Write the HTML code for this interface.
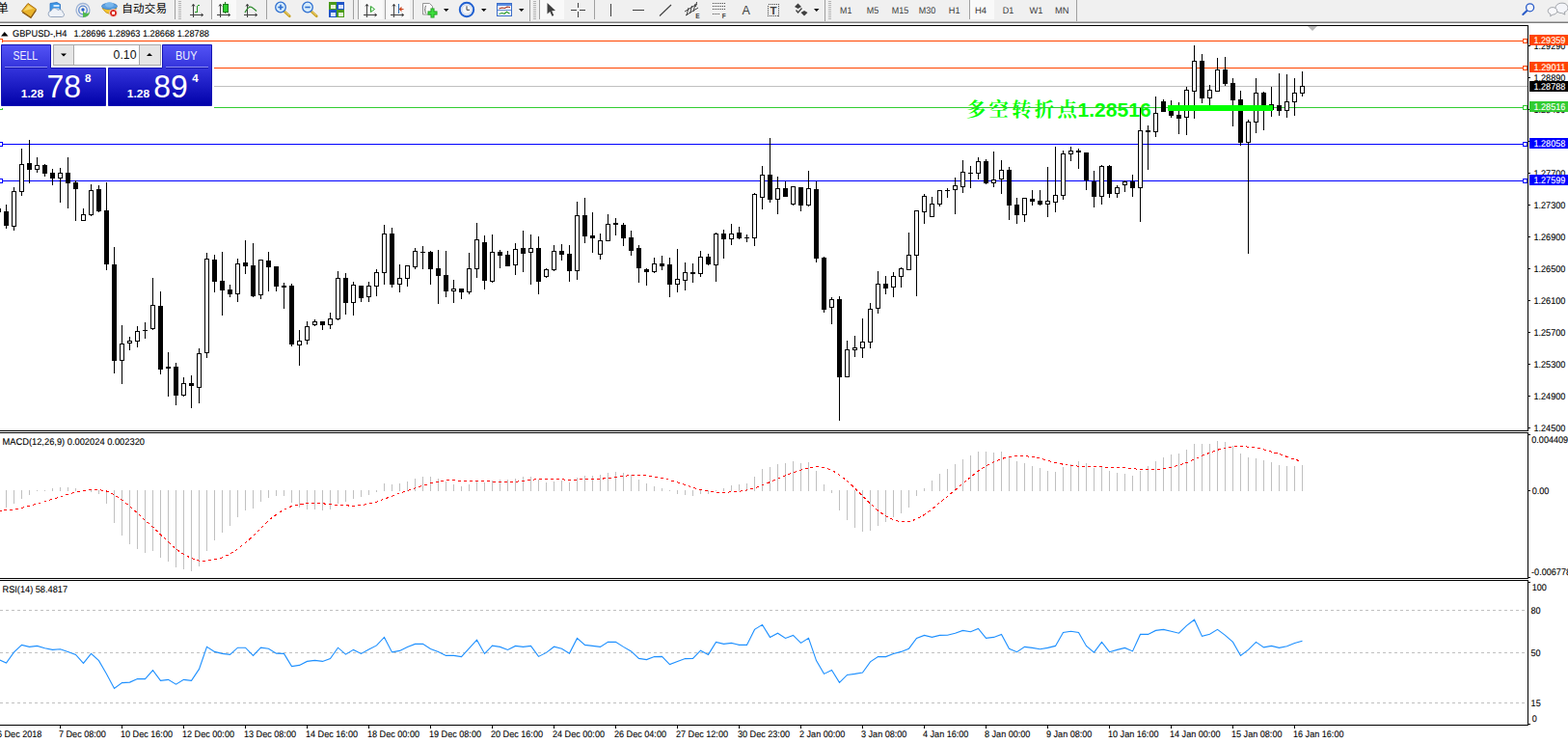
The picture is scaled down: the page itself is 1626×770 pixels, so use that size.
<!DOCTYPE html>
<html><head><meta charset="utf-8"><title>GBPUSD-,H4</title>
<style>
html,body{margin:0;padding:0;background:#fff;}
body{width:1626px;height:770px;overflow:hidden;font-family:"Liberation Sans",sans-serif;}
svg{display:block;position:absolute;left:0;top:0;}
svg text{font-family:"Liberation Sans",sans-serif;}
</style></head><body>
<svg width="1626" height="770" viewBox="0 0 1626 770">
<rect x="0" y="0" width="1626" height="770" fill="#fff"/>
<text x="1002" y="120.9" font-size="20.4" fill="#00ff00" font-weight="bold" text-anchor="start" textLength="114.8" lengthAdjust="spacing" style="font-family:'Liberation Serif','Noto Serif CJK SC',serif;">多空转折点</text>
<text x="1117.5" y="120.8" font-size="21.1" fill="#00ff00" font-weight="bold" text-anchor="start" >1.28516</text>
<g shape-rendering="crispEdges">
<rect x="0" y="26" width="1585" height="1" fill="#000" />
<rect x="1584" y="26" width="1" height="726" fill="#000" />
<rect x="0" y="446" width="1585" height="1" fill="#000" />
<rect x="0" y="448" width="1585" height="1" fill="#000" />
<rect x="0" y="599" width="1585" height="1" fill="#000" />
<rect x="0" y="601" width="1585" height="1" fill="#000" />
<rect x="0" y="751" width="1585" height="1" fill="#000" />
<rect x="1584" y="447" width="1" height="1" fill="#fff" />
<rect x="1584" y="600" width="1" height="1" fill="#fff" />
<rect x="0" y="89" width="1584" height="1" fill="#c0c0c0" />
<rect x="0" y="42" width="1584" height="1" fill="#ff4500" />
<rect x="-3.5" y="40.5" width="6" height="4" fill="#fff" stroke="#ff4500" stroke-width="1"/>
<rect x="1579.5" y="40.5" width="4" height="4" fill="#fff" stroke="#ff4500" stroke-width="1"/>
<rect x="0" y="70" width="1584" height="1" fill="#ff4500" />
<rect x="-3.5" y="68.5" width="6" height="4" fill="#fff" stroke="#ff4500" stroke-width="1"/>
<rect x="1579.5" y="68.5" width="4" height="4" fill="#fff" stroke="#ff4500" stroke-width="1"/>
<rect x="0" y="111" width="1584" height="1" fill="#32cd32" />
<rect x="-3.5" y="109.5" width="6" height="4" fill="#fff" stroke="#32cd32" stroke-width="1"/>
<rect x="1579.5" y="109.5" width="4" height="4" fill="#fff" stroke="#32cd32" stroke-width="1"/>
<rect x="0" y="149" width="1584" height="1" fill="#0000ff" />
<rect x="-3.5" y="147.5" width="6" height="4" fill="#fff" stroke="#0000ff" stroke-width="1"/>
<rect x="1579.5" y="147.5" width="4" height="4" fill="#fff" stroke="#0000ff" stroke-width="1"/>
<rect x="0" y="187" width="1584" height="1" fill="#0000ff" />
<rect x="-3.5" y="185.5" width="6" height="4" fill="#fff" stroke="#0000ff" stroke-width="1"/>
<rect x="1579.5" y="185.5" width="4" height="4" fill="#fff" stroke="#0000ff" stroke-width="1"/>
<rect x="-2" y="214" width="1" height="10" fill="#000" />
<rect x="-4" y="216" width="5" height="4" fill="#000" />
<rect x="6" y="212" width="1" height="25" fill="#000" />
<rect x="4" y="219" width="5" height="15" fill="#000" />
<rect x="14" y="194" width="1" height="45" fill="#000" />
<rect x="12" y="198" width="5" height="37" fill="#000" />
<rect x="13" y="199" width="3" height="35" fill="#fff" />
<rect x="22" y="154" width="1" height="49" fill="#000" />
<rect x="20" y="170" width="5" height="29" fill="#000" />
<rect x="21" y="171" width="3" height="27" fill="#fff" />
<rect x="30" y="145" width="1" height="45" fill="#000" />
<rect x="28" y="169" width="5" height="7" fill="#000" />
<rect x="38" y="163" width="1" height="16" fill="#000" />
<rect x="36" y="171" width="5" height="5" fill="#000" />
<rect x="37" y="172" width="3" height="3" fill="#fff" />
<rect x="46" y="170" width="1" height="13" fill="#000" />
<rect x="44" y="171" width="5" height="9" fill="#000" />
<rect x="54" y="175" width="1" height="17" fill="#000" />
<rect x="52" y="179" width="5" height="6" fill="#000" />
<rect x="62" y="174" width="1" height="36" fill="#000" />
<rect x="60" y="179" width="5" height="6" fill="#000" />
<rect x="61" y="180" width="3" height="4" fill="#fff" />
<rect x="70" y="163" width="1" height="53" fill="#000" />
<rect x="68" y="179" width="5" height="11" fill="#000" />
<rect x="78" y="187" width="1" height="42" fill="#000" />
<rect x="76" y="189" width="5" height="7" fill="#000" />
<rect x="86" y="216" width="1" height="13" fill="#000" />
<rect x="84" y="222" width="5" height="7" fill="#000" />
<rect x="85" y="223" width="3" height="5" fill="#fff" />
<rect x="94" y="191" width="1" height="33" fill="#000" />
<rect x="92" y="197" width="5" height="26" fill="#000" />
<rect x="93" y="198" width="3" height="24" fill="#fff" />
<rect x="102" y="192" width="1" height="28" fill="#000" />
<rect x="100" y="196" width="5" height="23" fill="#000" />
<rect x="110" y="189" width="1" height="91" fill="#000" />
<rect x="108" y="218" width="5" height="56" fill="#000" />
<rect x="118" y="256" width="1" height="131" fill="#000" />
<rect x="116" y="274" width="5" height="100" fill="#000" />
<rect x="126" y="337" width="1" height="61" fill="#000" />
<rect x="124" y="356" width="5" height="18" fill="#000" />
<rect x="125" y="357" width="3" height="16" fill="#fff" />
<rect x="134" y="349" width="1" height="14" fill="#000" />
<rect x="132" y="353" width="5" height="3" fill="#000" />
<rect x="133" y="354" width="3" height="1" fill="#fff" />
<rect x="142" y="338" width="1" height="22" fill="#000" />
<rect x="140" y="343" width="5" height="11" fill="#000" />
<rect x="141" y="344" width="3" height="9" fill="#fff" />
<rect x="150" y="334" width="1" height="17" fill="#000" />
<rect x="148" y="342" width="5" height="1" fill="#000" />
<rect x="158" y="288" width="1" height="54" fill="#000" />
<rect x="156" y="316" width="5" height="25" fill="#000" />
<rect x="157" y="317" width="3" height="23" fill="#fff" />
<rect x="166" y="302" width="1" height="86" fill="#000" />
<rect x="164" y="317" width="5" height="66" fill="#000" />
<rect x="174" y="365" width="1" height="46" fill="#000" />
<rect x="172" y="380" width="5" height="2" fill="#000" />
<rect x="182" y="376" width="1" height="44" fill="#000" />
<rect x="180" y="380" width="5" height="30" fill="#000" />
<rect x="190" y="391" width="1" height="20" fill="#000" />
<rect x="188" y="397" width="5" height="13" fill="#000" />
<rect x="189" y="398" width="3" height="11" fill="#fff" />
<rect x="198" y="389" width="1" height="34" fill="#000" />
<rect x="196" y="397" width="5" height="3" fill="#000" />
<rect x="206" y="361" width="1" height="57" fill="#000" />
<rect x="204" y="366" width="5" height="36" fill="#000" />
<rect x="205" y="367" width="3" height="34" fill="#fff" />
<rect x="214" y="262" width="1" height="109" fill="#000" />
<rect x="212" y="268" width="5" height="98" fill="#000" />
<rect x="213" y="269" width="3" height="96" fill="#fff" />
<rect x="222" y="264" width="1" height="39" fill="#000" />
<rect x="220" y="269" width="5" height="23" fill="#000" />
<rect x="230" y="261" width="1" height="66" fill="#000" />
<rect x="228" y="291" width="5" height="10" fill="#000" />
<rect x="238" y="295" width="1" height="13" fill="#000" />
<rect x="236" y="300" width="5" height="5" fill="#000" />
<rect x="246" y="268" width="1" height="45" fill="#000" />
<rect x="244" y="273" width="5" height="32" fill="#000" />
<rect x="245" y="274" width="3" height="30" fill="#fff" />
<rect x="254" y="249" width="1" height="35" fill="#000" />
<rect x="252" y="272" width="5" height="4" fill="#000" />
<rect x="262" y="252" width="1" height="56" fill="#000" />
<rect x="260" y="275" width="5" height="32" fill="#000" />
<rect x="270" y="269" width="1" height="41" fill="#000" />
<rect x="268" y="269" width="5" height="37" fill="#000" />
<rect x="269" y="270" width="3" height="35" fill="#fff" />
<rect x="278" y="261" width="1" height="41" fill="#000" />
<rect x="276" y="270" width="5" height="7" fill="#000" />
<rect x="286" y="276" width="1" height="26" fill="#000" />
<rect x="284" y="276" width="5" height="21" fill="#000" />
<rect x="294" y="293" width="1" height="27" fill="#000" />
<rect x="292" y="296" width="5" height="2" fill="#000" />
<rect x="302" y="294" width="1" height="65" fill="#000" />
<rect x="300" y="296" width="5" height="61" fill="#000" />
<rect x="310" y="342" width="1" height="37" fill="#000" />
<rect x="308" y="353" width="5" height="5" fill="#000" />
<rect x="309" y="354" width="3" height="3" fill="#fff" />
<rect x="318" y="333" width="1" height="24" fill="#000" />
<rect x="316" y="338" width="5" height="15" fill="#000" />
<rect x="317" y="339" width="3" height="13" fill="#fff" />
<rect x="326" y="331" width="1" height="7" fill="#000" />
<rect x="324" y="333" width="5" height="4" fill="#000" />
<rect x="325" y="334" width="3" height="2" fill="#fff" />
<rect x="334" y="333" width="1" height="9" fill="#000" />
<rect x="332" y="333" width="5" height="4" fill="#000" />
<rect x="342" y="324" width="1" height="17" fill="#000" />
<rect x="340" y="330" width="5" height="7" fill="#000" />
<rect x="341" y="331" width="3" height="5" fill="#fff" />
<rect x="350" y="281" width="1" height="51" fill="#000" />
<rect x="348" y="288" width="5" height="43" fill="#000" />
<rect x="349" y="289" width="3" height="41" fill="#fff" />
<rect x="358" y="283" width="1" height="43" fill="#000" />
<rect x="356" y="288" width="5" height="26" fill="#000" />
<rect x="366" y="292" width="1" height="35" fill="#000" />
<rect x="364" y="295" width="5" height="19" fill="#000" />
<rect x="365" y="296" width="3" height="17" fill="#fff" />
<rect x="374" y="296" width="1" height="17" fill="#000" />
<rect x="372" y="296" width="5" height="13" fill="#000" />
<rect x="382" y="292" width="1" height="21" fill="#000" />
<rect x="380" y="296" width="5" height="12" fill="#000" />
<rect x="381" y="297" width="3" height="10" fill="#fff" />
<rect x="390" y="279" width="1" height="28" fill="#000" />
<rect x="388" y="282" width="5" height="15" fill="#000" />
<rect x="389" y="283" width="3" height="13" fill="#fff" />
<rect x="398" y="233" width="1" height="62" fill="#000" />
<rect x="396" y="242" width="5" height="41" fill="#000" />
<rect x="397" y="243" width="3" height="39" fill="#fff" />
<rect x="406" y="236" width="1" height="62" fill="#000" />
<rect x="404" y="242" width="5" height="53" fill="#000" />
<rect x="414" y="274" width="1" height="29" fill="#000" />
<rect x="412" y="288" width="5" height="7" fill="#000" />
<rect x="413" y="289" width="3" height="5" fill="#fff" />
<rect x="422" y="275" width="1" height="22" fill="#000" />
<rect x="420" y="275" width="5" height="14" fill="#000" />
<rect x="421" y="276" width="3" height="12" fill="#fff" />
<rect x="430" y="257" width="1" height="22" fill="#000" />
<rect x="428" y="260" width="5" height="17" fill="#000" />
<rect x="429" y="261" width="3" height="15" fill="#fff" />
<rect x="438" y="255" width="1" height="24" fill="#000" />
<rect x="436" y="261" width="5" height="1" fill="#000" />
<rect x="446" y="260" width="1" height="35" fill="#000" />
<rect x="444" y="261" width="5" height="18" fill="#000" />
<rect x="454" y="259" width="1" height="56" fill="#000" />
<rect x="452" y="278" width="5" height="8" fill="#000" />
<rect x="462" y="260" width="1" height="48" fill="#000" />
<rect x="460" y="285" width="5" height="17" fill="#000" />
<rect x="470" y="290" width="1" height="24" fill="#000" />
<rect x="468" y="299" width="5" height="3" fill="#000" />
<rect x="469" y="300" width="3" height="1" fill="#fff" />
<rect x="478" y="299" width="1" height="11" fill="#000" />
<rect x="476" y="299" width="5" height="4" fill="#000" />
<rect x="486" y="262" width="1" height="43" fill="#000" />
<rect x="484" y="278" width="5" height="25" fill="#000" />
<rect x="485" y="279" width="3" height="23" fill="#fff" />
<rect x="494" y="231" width="1" height="57" fill="#000" />
<rect x="492" y="248" width="5" height="31" fill="#000" />
<rect x="493" y="249" width="3" height="29" fill="#fff" />
<rect x="502" y="244" width="1" height="56" fill="#000" />
<rect x="500" y="251" width="5" height="40" fill="#000" />
<rect x="510" y="243" width="1" height="50" fill="#000" />
<rect x="508" y="261" width="5" height="31" fill="#000" />
<rect x="509" y="262" width="3" height="29" fill="#fff" />
<rect x="518" y="259" width="1" height="19" fill="#000" />
<rect x="516" y="261" width="5" height="4" fill="#000" />
<rect x="526" y="260" width="1" height="16" fill="#000" />
<rect x="524" y="264" width="5" height="12" fill="#000" />
<rect x="534" y="252" width="1" height="33" fill="#000" />
<rect x="532" y="258" width="5" height="17" fill="#000" />
<rect x="533" y="259" width="3" height="15" fill="#fff" />
<rect x="542" y="239" width="1" height="43" fill="#000" />
<rect x="540" y="257" width="5" height="6" fill="#000" />
<rect x="550" y="243" width="1" height="52" fill="#000" />
<rect x="548" y="257" width="5" height="5" fill="#000" />
<rect x="549" y="258" width="3" height="3" fill="#fff" />
<rect x="558" y="245" width="1" height="60" fill="#000" />
<rect x="556" y="257" width="5" height="35" fill="#000" />
<rect x="566" y="278" width="1" height="10" fill="#000" />
<rect x="564" y="279" width="5" height="8" fill="#000" />
<rect x="565" y="280" width="3" height="6" fill="#fff" />
<rect x="574" y="254" width="1" height="27" fill="#000" />
<rect x="572" y="260" width="5" height="20" fill="#000" />
<rect x="573" y="261" width="3" height="18" fill="#fff" />
<rect x="582" y="253" width="1" height="17" fill="#000" />
<rect x="580" y="260" width="5" height="4" fill="#000" />
<rect x="590" y="254" width="1" height="38" fill="#000" />
<rect x="588" y="263" width="5" height="18" fill="#000" />
<rect x="598" y="209" width="1" height="81" fill="#000" />
<rect x="596" y="223" width="5" height="58" fill="#000" />
<rect x="597" y="224" width="3" height="56" fill="#fff" />
<rect x="606" y="205" width="1" height="47" fill="#000" />
<rect x="604" y="223" width="5" height="22" fill="#000" />
<rect x="614" y="220" width="1" height="42" fill="#000" />
<rect x="612" y="244" width="5" height="3" fill="#000" />
<rect x="622" y="242" width="1" height="27" fill="#000" />
<rect x="620" y="249" width="5" height="15" fill="#000" />
<rect x="621" y="250" width="3" height="13" fill="#fff" />
<rect x="630" y="222" width="1" height="28" fill="#000" />
<rect x="628" y="232" width="5" height="18" fill="#000" />
<rect x="629" y="233" width="3" height="16" fill="#fff" />
<rect x="638" y="226" width="1" height="18" fill="#000" />
<rect x="636" y="231" width="5" height="2" fill="#000" />
<rect x="646" y="231" width="1" height="24" fill="#000" />
<rect x="644" y="233" width="5" height="14" fill="#000" />
<rect x="654" y="239" width="1" height="26" fill="#000" />
<rect x="652" y="246" width="5" height="14" fill="#000" />
<rect x="662" y="254" width="1" height="39" fill="#000" />
<rect x="660" y="257" width="5" height="21" fill="#000" />
<rect x="670" y="278" width="1" height="18" fill="#000" />
<rect x="668" y="279" width="5" height="3" fill="#000" />
<rect x="678" y="267" width="1" height="16" fill="#000" />
<rect x="676" y="273" width="5" height="9" fill="#000" />
<rect x="677" y="274" width="3" height="7" fill="#fff" />
<rect x="686" y="265" width="1" height="15" fill="#000" />
<rect x="684" y="273" width="5" height="3" fill="#000" />
<rect x="694" y="267" width="1" height="41" fill="#000" />
<rect x="692" y="274" width="5" height="21" fill="#000" />
<rect x="702" y="258" width="1" height="45" fill="#000" />
<rect x="700" y="289" width="5" height="6" fill="#000" />
<rect x="701" y="290" width="3" height="4" fill="#fff" />
<rect x="710" y="272" width="1" height="29" fill="#000" />
<rect x="708" y="282" width="5" height="9" fill="#000" />
<rect x="709" y="283" width="3" height="7" fill="#fff" />
<rect x="718" y="273" width="1" height="20" fill="#000" />
<rect x="716" y="282" width="5" height="2" fill="#000" />
<rect x="726" y="260" width="1" height="27" fill="#000" />
<rect x="724" y="266" width="5" height="18" fill="#000" />
<rect x="725" y="267" width="3" height="16" fill="#fff" />
<rect x="734" y="263" width="1" height="12" fill="#000" />
<rect x="732" y="266" width="5" height="8" fill="#000" />
<rect x="742" y="241" width="1" height="51" fill="#000" />
<rect x="740" y="242" width="5" height="33" fill="#000" />
<rect x="741" y="243" width="3" height="31" fill="#fff" />
<rect x="750" y="238" width="1" height="30" fill="#000" />
<rect x="748" y="242" width="5" height="6" fill="#000" />
<rect x="758" y="232" width="1" height="22" fill="#000" />
<rect x="756" y="242" width="5" height="6" fill="#000" />
<rect x="757" y="243" width="3" height="4" fill="#fff" />
<rect x="766" y="235" width="1" height="13" fill="#000" />
<rect x="764" y="241" width="5" height="6" fill="#000" />
<rect x="774" y="243" width="1" height="8" fill="#000" />
<rect x="772" y="246" width="5" height="1" fill="#000" />
<rect x="782" y="200" width="1" height="55" fill="#000" />
<rect x="780" y="201" width="5" height="46" fill="#000" />
<rect x="781" y="202" width="3" height="44" fill="#fff" />
<rect x="790" y="172" width="1" height="45" fill="#000" />
<rect x="788" y="181" width="5" height="24" fill="#000" />
<rect x="789" y="182" width="3" height="22" fill="#fff" />
<rect x="798" y="143" width="1" height="67" fill="#000" />
<rect x="796" y="181" width="5" height="26" fill="#000" />
<rect x="806" y="183" width="1" height="39" fill="#000" />
<rect x="804" y="195" width="5" height="12" fill="#000" />
<rect x="805" y="196" width="3" height="10" fill="#fff" />
<rect x="814" y="188" width="1" height="16" fill="#000" />
<rect x="812" y="195" width="5" height="9" fill="#000" />
<rect x="822" y="193" width="1" height="20" fill="#000" />
<rect x="820" y="193" width="5" height="19" fill="#000" />
<rect x="821" y="194" width="3" height="17" fill="#fff" />
<rect x="830" y="194" width="1" height="25" fill="#000" />
<rect x="828" y="194" width="5" height="19" fill="#000" />
<rect x="838" y="177" width="1" height="37" fill="#000" />
<rect x="836" y="195" width="5" height="18" fill="#000" />
<rect x="837" y="196" width="3" height="16" fill="#fff" />
<rect x="846" y="188" width="1" height="84" fill="#000" />
<rect x="844" y="196" width="5" height="72" fill="#000" />
<rect x="854" y="266" width="1" height="58" fill="#000" />
<rect x="852" y="267" width="5" height="54" fill="#000" />
<rect x="862" y="308" width="1" height="28" fill="#000" />
<rect x="860" y="310" width="5" height="9" fill="#000" />
<rect x="861" y="311" width="3" height="7" fill="#fff" />
<rect x="870" y="307" width="1" height="129" fill="#000" />
<rect x="868" y="310" width="5" height="81" fill="#000" />
<rect x="878" y="353" width="1" height="38" fill="#000" />
<rect x="876" y="362" width="5" height="29" fill="#000" />
<rect x="877" y="363" width="3" height="27" fill="#fff" />
<rect x="886" y="348" width="1" height="22" fill="#000" />
<rect x="884" y="360" width="5" height="3" fill="#000" />
<rect x="885" y="361" width="3" height="1" fill="#fff" />
<rect x="894" y="330" width="1" height="41" fill="#000" />
<rect x="892" y="354" width="5" height="7" fill="#000" />
<rect x="893" y="355" width="3" height="5" fill="#fff" />
<rect x="902" y="314" width="1" height="47" fill="#000" />
<rect x="900" y="320" width="5" height="35" fill="#000" />
<rect x="901" y="321" width="3" height="33" fill="#fff" />
<rect x="910" y="281" width="1" height="44" fill="#000" />
<rect x="908" y="294" width="5" height="26" fill="#000" />
<rect x="909" y="295" width="3" height="24" fill="#fff" />
<rect x="918" y="286" width="1" height="19" fill="#000" />
<rect x="916" y="294" width="5" height="5" fill="#000" />
<rect x="926" y="282" width="1" height="26" fill="#000" />
<rect x="924" y="286" width="5" height="12" fill="#000" />
<rect x="925" y="287" width="3" height="10" fill="#fff" />
<rect x="934" y="277" width="1" height="21" fill="#000" />
<rect x="932" y="278" width="5" height="9" fill="#000" />
<rect x="933" y="279" width="3" height="7" fill="#fff" />
<rect x="942" y="241" width="1" height="39" fill="#000" />
<rect x="940" y="264" width="5" height="16" fill="#000" />
<rect x="941" y="265" width="3" height="14" fill="#fff" />
<rect x="950" y="218" width="1" height="89" fill="#000" />
<rect x="948" y="218" width="5" height="47" fill="#000" />
<rect x="949" y="219" width="3" height="45" fill="#fff" />
<rect x="958" y="201" width="1" height="31" fill="#000" />
<rect x="956" y="203" width="5" height="17" fill="#000" />
<rect x="957" y="204" width="3" height="15" fill="#fff" />
<rect x="966" y="204" width="1" height="21" fill="#000" />
<rect x="964" y="211" width="5" height="14" fill="#000" />
<rect x="965" y="212" width="3" height="12" fill="#fff" />
<rect x="974" y="197" width="1" height="17" fill="#000" />
<rect x="972" y="197" width="5" height="15" fill="#000" />
<rect x="973" y="198" width="3" height="13" fill="#fff" />
<rect x="982" y="195" width="1" height="10" fill="#000" />
<rect x="980" y="197" width="5" height="1" fill="#000" />
<rect x="990" y="184" width="1" height="38" fill="#000" />
<rect x="988" y="192" width="5" height="5" fill="#000" />
<rect x="989" y="193" width="3" height="3" fill="#fff" />
<rect x="998" y="166" width="1" height="34" fill="#000" />
<rect x="996" y="178" width="5" height="16" fill="#000" />
<rect x="997" y="179" width="3" height="14" fill="#fff" />
<rect x="1006" y="172" width="1" height="23" fill="#000" />
<rect x="1004" y="179" width="5" height="1" fill="#000" />
<rect x="1014" y="163" width="1" height="23" fill="#000" />
<rect x="1012" y="167" width="5" height="13" fill="#000" />
<rect x="1013" y="168" width="3" height="11" fill="#fff" />
<rect x="1022" y="165" width="1" height="26" fill="#000" />
<rect x="1020" y="167" width="5" height="23" fill="#000" />
<rect x="1030" y="157" width="1" height="37" fill="#000" />
<rect x="1028" y="186" width="5" height="4" fill="#000" />
<rect x="1029" y="187" width="3" height="2" fill="#fff" />
<rect x="1038" y="166" width="1" height="35" fill="#000" />
<rect x="1036" y="176" width="5" height="10" fill="#000" />
<rect x="1037" y="177" width="3" height="8" fill="#fff" />
<rect x="1046" y="173" width="1" height="55" fill="#000" />
<rect x="1044" y="176" width="5" height="37" fill="#000" />
<rect x="1054" y="205" width="1" height="27" fill="#000" />
<rect x="1052" y="212" width="5" height="11" fill="#000" />
<rect x="1062" y="205" width="1" height="25" fill="#000" />
<rect x="1060" y="205" width="5" height="18" fill="#000" />
<rect x="1061" y="206" width="3" height="16" fill="#fff" />
<rect x="1070" y="197" width="1" height="16" fill="#000" />
<rect x="1068" y="206" width="5" height="3" fill="#000" />
<rect x="1078" y="197" width="1" height="16" fill="#000" />
<rect x="1076" y="208" width="5" height="4" fill="#000" />
<rect x="1086" y="173" width="1" height="52" fill="#000" />
<rect x="1084" y="208" width="5" height="4" fill="#000" />
<rect x="1085" y="209" width="3" height="2" fill="#fff" />
<rect x="1094" y="152" width="1" height="68" fill="#000" />
<rect x="1092" y="202" width="5" height="8" fill="#000" />
<rect x="1093" y="203" width="3" height="6" fill="#fff" />
<rect x="1102" y="156" width="1" height="51" fill="#000" />
<rect x="1100" y="159" width="5" height="44" fill="#000" />
<rect x="1101" y="160" width="3" height="42" fill="#fff" />
<rect x="1110" y="152" width="1" height="15" fill="#000" />
<rect x="1108" y="156" width="5" height="4" fill="#000" />
<rect x="1109" y="157" width="3" height="2" fill="#fff" />
<rect x="1118" y="154" width="1" height="21" fill="#000" />
<rect x="1116" y="156" width="5" height="2" fill="#000" />
<rect x="1126" y="158" width="1" height="39" fill="#000" />
<rect x="1124" y="158" width="5" height="29" fill="#000" />
<rect x="1134" y="177" width="1" height="38" fill="#000" />
<rect x="1132" y="188" width="5" height="16" fill="#000" />
<rect x="1142" y="171" width="1" height="41" fill="#000" />
<rect x="1140" y="172" width="5" height="32" fill="#000" />
<rect x="1141" y="173" width="3" height="30" fill="#fff" />
<rect x="1150" y="171" width="1" height="34" fill="#000" />
<rect x="1148" y="172" width="5" height="29" fill="#000" />
<rect x="1158" y="192" width="1" height="13" fill="#000" />
<rect x="1156" y="194" width="5" height="7" fill="#000" />
<rect x="1157" y="195" width="3" height="5" fill="#fff" />
<rect x="1166" y="187" width="1" height="12" fill="#000" />
<rect x="1164" y="188" width="5" height="4" fill="#000" />
<rect x="1165" y="189" width="3" height="2" fill="#fff" />
<rect x="1174" y="181" width="1" height="23" fill="#000" />
<rect x="1172" y="188" width="5" height="7" fill="#000" />
<rect x="1182" y="112" width="1" height="118" fill="#000" />
<rect x="1180" y="135" width="5" height="60" fill="#000" />
<rect x="1181" y="136" width="3" height="58" fill="#fff" />
<rect x="1190" y="130" width="1" height="46" fill="#000" />
<rect x="1188" y="135" width="5" height="2" fill="#000" />
<rect x="1198" y="100" width="1" height="42" fill="#000" />
<rect x="1196" y="117" width="5" height="20" fill="#000" />
<rect x="1197" y="118" width="3" height="18" fill="#fff" />
<rect x="1206" y="103" width="1" height="13" fill="#000" />
<rect x="1204" y="105" width="5" height="11" fill="#000" />
<rect x="1214" y="104" width="1" height="18" fill="#000" />
<rect x="1212" y="110" width="5" height="10" fill="#000" />
<rect x="1222" y="106" width="1" height="33" fill="#000" />
<rect x="1220" y="119" width="5" height="4" fill="#000" />
<rect x="1230" y="90" width="1" height="50" fill="#000" />
<rect x="1228" y="93" width="5" height="29" fill="#000" />
<rect x="1229" y="94" width="3" height="27" fill="#fff" />
<rect x="1238" y="47" width="1" height="76" fill="#000" />
<rect x="1236" y="63" width="5" height="32" fill="#000" />
<rect x="1237" y="64" width="3" height="30" fill="#fff" />
<rect x="1246" y="56" width="1" height="51" fill="#000" />
<rect x="1244" y="63" width="5" height="39" fill="#000" />
<rect x="1254" y="88" width="1" height="21" fill="#000" />
<rect x="1252" y="93" width="5" height="9" fill="#000" />
<rect x="1253" y="94" width="3" height="7" fill="#fff" />
<rect x="1262" y="60" width="1" height="35" fill="#000" />
<rect x="1260" y="72" width="5" height="23" fill="#000" />
<rect x="1261" y="73" width="3" height="21" fill="#fff" />
<rect x="1270" y="59" width="1" height="30" fill="#000" />
<rect x="1268" y="72" width="5" height="15" fill="#000" />
<rect x="1278" y="81" width="1" height="50" fill="#000" />
<rect x="1276" y="86" width="5" height="18" fill="#000" />
<rect x="1286" y="94" width="1" height="57" fill="#000" />
<rect x="1284" y="103" width="5" height="45" fill="#000" />
<rect x="1294" y="124" width="1" height="139" fill="#000" />
<rect x="1292" y="126" width="5" height="22" fill="#000" />
<rect x="1293" y="127" width="3" height="20" fill="#fff" />
<rect x="1302" y="81" width="1" height="57" fill="#000" />
<rect x="1300" y="96" width="5" height="31" fill="#000" />
<rect x="1301" y="97" width="3" height="29" fill="#fff" />
<rect x="1310" y="95" width="1" height="40" fill="#000" />
<rect x="1308" y="96" width="5" height="13" fill="#000" />
<rect x="1318" y="90" width="1" height="31" fill="#000" />
<rect x="1316" y="108" width="5" height="6" fill="#000" />
<rect x="1317" y="109" width="3" height="4" fill="#fff" />
<rect x="1326" y="76" width="1" height="44" fill="#000" />
<rect x="1324" y="109" width="5" height="6" fill="#000" />
<rect x="1334" y="77" width="1" height="45" fill="#000" />
<rect x="1332" y="105" width="5" height="10" fill="#000" />
<rect x="1333" y="106" width="3" height="8" fill="#fff" />
<rect x="1342" y="81" width="1" height="39" fill="#000" />
<rect x="1340" y="96" width="5" height="10" fill="#000" />
<rect x="1341" y="97" width="3" height="8" fill="#fff" />
<rect x="1350" y="74" width="1" height="26" fill="#000" />
<rect x="1348" y="89" width="5" height="8" fill="#000" />
<rect x="1349" y="90" width="3" height="6" fill="#fff" />
<rect x="1211" y="109" width="109" height="6" fill="#00ff00" />
<rect x="6" y="508" width="1" height="18" fill="#c0c0c0" />
<rect x="14" y="508" width="1" height="14" fill="#c0c0c0" />
<rect x="22" y="508" width="1" height="9" fill="#c0c0c0" />
<rect x="30" y="508" width="1" height="5" fill="#c0c0c0" />
<rect x="38" y="508" width="1" height="1" fill="#c0c0c0" />
<rect x="46" y="508" width="1" height="1" fill="#c0c0c0" />
<rect x="54" y="506" width="1" height="3" fill="#c0c0c0" />
<rect x="62" y="505" width="1" height="4" fill="#c0c0c0" />
<rect x="70" y="505" width="1" height="4" fill="#c0c0c0" />
<rect x="78" y="506" width="1" height="3" fill="#c0c0c0" />
<rect x="86" y="508" width="1" height="1" fill="#c0c0c0" />
<rect x="94" y="508" width="1" height="2" fill="#c0c0c0" />
<rect x="102" y="508" width="1" height="4" fill="#c0c0c0" />
<rect x="110" y="508" width="1" height="14" fill="#c0c0c0" />
<rect x="118" y="508" width="1" height="34" fill="#c0c0c0" />
<rect x="126" y="508" width="1" height="47" fill="#c0c0c0" />
<rect x="134" y="508" width="1" height="56" fill="#c0c0c0" />
<rect x="142" y="508" width="1" height="61" fill="#c0c0c0" />
<rect x="150" y="508" width="1" height="65" fill="#c0c0c0" />
<rect x="158" y="508" width="1" height="63" fill="#c0c0c0" />
<rect x="166" y="508" width="1" height="70" fill="#c0c0c0" />
<rect x="174" y="508" width="1" height="74" fill="#c0c0c0" />
<rect x="182" y="508" width="1" height="80" fill="#c0c0c0" />
<rect x="190" y="508" width="1" height="82" fill="#c0c0c0" />
<rect x="198" y="508" width="1" height="84" fill="#c0c0c0" />
<rect x="206" y="508" width="1" height="79" fill="#c0c0c0" />
<rect x="214" y="508" width="1" height="63" fill="#c0c0c0" />
<rect x="222" y="508" width="1" height="52" fill="#c0c0c0" />
<rect x="230" y="508" width="1" height="44" fill="#c0c0c0" />
<rect x="238" y="508" width="1" height="37" fill="#c0c0c0" />
<rect x="246" y="508" width="1" height="28" fill="#c0c0c0" />
<rect x="254" y="508" width="1" height="21" fill="#c0c0c0" />
<rect x="262" y="508" width="1" height="19" fill="#c0c0c0" />
<rect x="270" y="508" width="1" height="12" fill="#c0c0c0" />
<rect x="278" y="508" width="1" height="8" fill="#c0c0c0" />
<rect x="286" y="508" width="1" height="6" fill="#c0c0c0" />
<rect x="294" y="508" width="1" height="6" fill="#c0c0c0" />
<rect x="302" y="508" width="1" height="13" fill="#c0c0c0" />
<rect x="310" y="508" width="1" height="18" fill="#c0c0c0" />
<rect x="318" y="508" width="1" height="20" fill="#c0c0c0" />
<rect x="326" y="508" width="1" height="20" fill="#c0c0c0" />
<rect x="334" y="508" width="1" height="21" fill="#c0c0c0" />
<rect x="342" y="508" width="1" height="20" fill="#c0c0c0" />
<rect x="350" y="508" width="1" height="14" fill="#c0c0c0" />
<rect x="358" y="508" width="1" height="12" fill="#c0c0c0" />
<rect x="366" y="508" width="1" height="9" fill="#c0c0c0" />
<rect x="374" y="508" width="1" height="7" fill="#c0c0c0" />
<rect x="382" y="508" width="1" height="5" fill="#c0c0c0" />
<rect x="390" y="508" width="1" height="2" fill="#c0c0c0" />
<rect x="398" y="501" width="1" height="8" fill="#c0c0c0" />
<rect x="406" y="502" width="1" height="7" fill="#c0c0c0" />
<rect x="414" y="501" width="1" height="8" fill="#c0c0c0" />
<rect x="422" y="499" width="1" height="10" fill="#c0c0c0" />
<rect x="430" y="496" width="1" height="13" fill="#c0c0c0" />
<rect x="438" y="494" width="1" height="15" fill="#c0c0c0" />
<rect x="446" y="494" width="1" height="15" fill="#c0c0c0" />
<rect x="454" y="496" width="1" height="13" fill="#c0c0c0" />
<rect x="462" y="499" width="1" height="10" fill="#c0c0c0" />
<rect x="470" y="502" width="1" height="7" fill="#c0c0c0" />
<rect x="478" y="504" width="1" height="5" fill="#c0c0c0" />
<rect x="486" y="502" width="1" height="7" fill="#c0c0c0" />
<rect x="494" y="498" width="1" height="11" fill="#c0c0c0" />
<rect x="502" y="500" width="1" height="9" fill="#c0c0c0" />
<rect x="510" y="498" width="1" height="11" fill="#c0c0c0" />
<rect x="518" y="497" width="1" height="12" fill="#c0c0c0" />
<rect x="526" y="497" width="1" height="12" fill="#c0c0c0" />
<rect x="534" y="496" width="1" height="13" fill="#c0c0c0" />
<rect x="542" y="494" width="1" height="15" fill="#c0c0c0" />
<rect x="550" y="494" width="1" height="15" fill="#c0c0c0" />
<rect x="558" y="497" width="1" height="12" fill="#c0c0c0" />
<rect x="566" y="500" width="1" height="9" fill="#c0c0c0" />
<rect x="574" y="499" width="1" height="10" fill="#c0c0c0" />
<rect x="582" y="498" width="1" height="11" fill="#c0c0c0" />
<rect x="590" y="500" width="1" height="9" fill="#c0c0c0" />
<rect x="598" y="495" width="1" height="14" fill="#c0c0c0" />
<rect x="606" y="493" width="1" height="16" fill="#c0c0c0" />
<rect x="614" y="493" width="1" height="16" fill="#c0c0c0" />
<rect x="622" y="492" width="1" height="17" fill="#c0c0c0" />
<rect x="630" y="490" width="1" height="19" fill="#c0c0c0" />
<rect x="638" y="489" width="1" height="20" fill="#c0c0c0" />
<rect x="646" y="490" width="1" height="19" fill="#c0c0c0" />
<rect x="654" y="492" width="1" height="17" fill="#c0c0c0" />
<rect x="662" y="497" width="1" height="12" fill="#c0c0c0" />
<rect x="670" y="501" width="1" height="8" fill="#c0c0c0" />
<rect x="678" y="504" width="1" height="5" fill="#c0c0c0" />
<rect x="686" y="506" width="1" height="3" fill="#c0c0c0" />
<rect x="694" y="508" width="1" height="1" fill="#c0c0c0" />
<rect x="702" y="508" width="1" height="4" fill="#c0c0c0" />
<rect x="710" y="508" width="1" height="5" fill="#c0c0c0" />
<rect x="718" y="508" width="1" height="6" fill="#c0c0c0" />
<rect x="726" y="508" width="1" height="4" fill="#c0c0c0" />
<rect x="734" y="508" width="1" height="4" fill="#c0c0c0" />
<rect x="742" y="508" width="1" height="1" fill="#c0c0c0" />
<rect x="750" y="506" width="1" height="3" fill="#c0c0c0" />
<rect x="758" y="503" width="1" height="6" fill="#c0c0c0" />
<rect x="766" y="502" width="1" height="7" fill="#c0c0c0" />
<rect x="774" y="501" width="1" height="8" fill="#c0c0c0" />
<rect x="782" y="494" width="1" height="15" fill="#c0c0c0" />
<rect x="790" y="486" width="1" height="23" fill="#c0c0c0" />
<rect x="798" y="484" width="1" height="25" fill="#c0c0c0" />
<rect x="806" y="481" width="1" height="28" fill="#c0c0c0" />
<rect x="814" y="480" width="1" height="29" fill="#c0c0c0" />
<rect x="822" y="478" width="1" height="31" fill="#c0c0c0" />
<rect x="830" y="480" width="1" height="29" fill="#c0c0c0" />
<rect x="838" y="479" width="1" height="30" fill="#c0c0c0" />
<rect x="846" y="488" width="1" height="21" fill="#c0c0c0" />
<rect x="854" y="502" width="1" height="7" fill="#c0c0c0" />
<rect x="862" y="508" width="1" height="3" fill="#c0c0c0" />
<rect x="870" y="508" width="1" height="21" fill="#c0c0c0" />
<rect x="878" y="508" width="1" height="31" fill="#c0c0c0" />
<rect x="886" y="508" width="1" height="39" fill="#c0c0c0" />
<rect x="894" y="508" width="1" height="43" fill="#c0c0c0" />
<rect x="902" y="508" width="1" height="42" fill="#c0c0c0" />
<rect x="910" y="508" width="1" height="37" fill="#c0c0c0" />
<rect x="918" y="508" width="1" height="33" fill="#c0c0c0" />
<rect x="926" y="508" width="1" height="28" fill="#c0c0c0" />
<rect x="934" y="508" width="1" height="24" fill="#c0c0c0" />
<rect x="942" y="508" width="1" height="18" fill="#c0c0c0" />
<rect x="950" y="508" width="1" height="6" fill="#c0c0c0" />
<rect x="958" y="506" width="1" height="3" fill="#c0c0c0" />
<rect x="966" y="498" width="1" height="11" fill="#c0c0c0" />
<rect x="974" y="491" width="1" height="18" fill="#c0c0c0" />
<rect x="982" y="486" width="1" height="23" fill="#c0c0c0" />
<rect x="990" y="481" width="1" height="28" fill="#c0c0c0" />
<rect x="998" y="476" width="1" height="33" fill="#c0c0c0" />
<rect x="1006" y="472" width="1" height="37" fill="#c0c0c0" />
<rect x="1014" y="468" width="1" height="41" fill="#c0c0c0" />
<rect x="1022" y="468" width="1" height="41" fill="#c0c0c0" />
<rect x="1030" y="469" width="1" height="40" fill="#c0c0c0" />
<rect x="1038" y="468" width="1" height="41" fill="#c0c0c0" />
<rect x="1046" y="474" width="1" height="35" fill="#c0c0c0" />
<rect x="1054" y="478" width="1" height="31" fill="#c0c0c0" />
<rect x="1062" y="480" width="1" height="29" fill="#c0c0c0" />
<rect x="1070" y="483" width="1" height="26" fill="#c0c0c0" />
<rect x="1078" y="485" width="1" height="24" fill="#c0c0c0" />
<rect x="1086" y="488" width="1" height="21" fill="#c0c0c0" />
<rect x="1094" y="489" width="1" height="20" fill="#c0c0c0" />
<rect x="1102" y="484" width="1" height="25" fill="#c0c0c0" />
<rect x="1110" y="481" width="1" height="28" fill="#c0c0c0" />
<rect x="1118" y="478" width="1" height="31" fill="#c0c0c0" />
<rect x="1126" y="480" width="1" height="29" fill="#c0c0c0" />
<rect x="1134" y="485" width="1" height="24" fill="#c0c0c0" />
<rect x="1142" y="484" width="1" height="25" fill="#c0c0c0" />
<rect x="1150" y="488" width="1" height="21" fill="#c0c0c0" />
<rect x="1158" y="490" width="1" height="19" fill="#c0c0c0" />
<rect x="1166" y="491" width="1" height="18" fill="#c0c0c0" />
<rect x="1174" y="493" width="1" height="16" fill="#c0c0c0" />
<rect x="1182" y="488" width="1" height="21" fill="#c0c0c0" />
<rect x="1190" y="483" width="1" height="26" fill="#c0c0c0" />
<rect x="1198" y="478" width="1" height="31" fill="#c0c0c0" />
<rect x="1206" y="474" width="1" height="35" fill="#c0c0c0" />
<rect x="1214" y="471" width="1" height="38" fill="#c0c0c0" />
<rect x="1222" y="470" width="1" height="39" fill="#c0c0c0" />
<rect x="1230" y="466" width="1" height="43" fill="#c0c0c0" />
<rect x="1238" y="460" width="1" height="49" fill="#c0c0c0" />
<rect x="1246" y="460" width="1" height="49" fill="#c0c0c0" />
<rect x="1254" y="460" width="1" height="49" fill="#c0c0c0" />
<rect x="1262" y="457" width="1" height="52" fill="#c0c0c0" />
<rect x="1270" y="458" width="1" height="51" fill="#c0c0c0" />
<rect x="1278" y="462" width="1" height="47" fill="#c0c0c0" />
<rect x="1286" y="470" width="1" height="39" fill="#c0c0c0" />
<rect x="1294" y="474" width="1" height="35" fill="#c0c0c0" />
<rect x="1302" y="475" width="1" height="34" fill="#c0c0c0" />
<rect x="1310" y="477" width="1" height="32" fill="#c0c0c0" />
<rect x="1318" y="479" width="1" height="30" fill="#c0c0c0" />
<rect x="1326" y="482" width="1" height="27" fill="#c0c0c0" />
<rect x="1334" y="483" width="1" height="26" fill="#c0c0c0" />
<rect x="1342" y="483" width="1" height="26" fill="#c0c0c0" />
<rect x="1350" y="482" width="1" height="27" fill="#c0c0c0" />
</g>
<polyline fill="none" stroke="#ff0000" stroke-width="1" stroke-dasharray="3 3" shape-rendering="crispEdges" points="-1.5,529.3 6.5,528.7 14.5,527.8 22.5,526.3 30.5,524.4 38.5,522.1 46.5,519.8 54.5,517.3 62.5,514.8 70.5,512.3 78.5,510.1 86.5,508.4 94.5,507.6 102.5,507.5 110.5,509.0 118.5,512.8 126.5,518.2 134.5,524.7 142.5,531.8 150.5,539.2 158.5,546.2 166.5,553.9 174.5,561.6 182.5,569.0 190.5,574.4 198.5,578.5 206.5,581.1 214.5,581.3 222.5,579.8 230.5,577.8 238.5,574.1 246.5,568.9 254.5,562.4 262.5,555.4 270.5,547.4 278.5,539.4 286.5,533.2 294.5,528.1 302.5,524.6 310.5,522.5 318.5,521.6 326.5,521.6 334.5,521.8 342.5,522.6 350.5,523.3 358.5,523.9 366.5,524.2 374.5,523.6 382.5,522.2 390.5,520.2 398.5,517.1 406.5,514.2 414.5,511.1 422.5,508.6 430.5,505.9 438.5,503.3 446.5,500.9 454.5,499.0 462.5,497.8 470.5,497.9 478.5,498.1 486.5,498.3 494.5,498.2 502.5,498.6 510.5,499.1 518.5,499.5 526.5,499.6 534.5,499.3 542.5,498.4 550.5,497.3 558.5,496.7 566.5,496.9 574.5,496.9 582.5,496.9 590.5,497.2 598.5,497.0 606.5,496.7 614.5,496.5 622.5,496.3 630.5,495.5 638.5,494.3 646.5,493.3 654.5,492.6 662.5,492.3 670.5,492.9 678.5,494.1 686.5,495.6 694.5,497.4 702.5,499.9 710.5,502.6 718.5,505.2 726.5,507.5 734.5,509.1 742.5,510.0 750.5,510.3 758.5,509.9 766.5,509.2 774.5,508.0 782.5,505.9 790.5,502.7 798.5,499.6 806.5,496.1 814.5,492.9 822.5,489.8 830.5,487.3 838.5,484.8 846.5,483.4 854.5,484.3 862.5,487.1 870.5,492.1 878.5,498.5 886.5,505.9 894.5,514.0 902.5,521.8 910.5,529.1 918.5,534.9 926.5,538.6 934.5,541.0 942.5,540.7 950.5,538.0 958.5,533.4 966.5,527.6 974.5,521.0 982.5,514.4 990.5,507.8 998.5,501.1 1006.5,494.4 1014.5,488.0 1022.5,482.9 1030.5,478.8 1038.5,475.5 1046.5,473.6 1054.5,472.8 1062.5,472.7 1070.5,473.5 1078.5,474.9 1086.5,477.2 1094.5,479.5 1102.5,481.2 1110.5,482.6 1118.5,483.1 1126.5,483.3 1134.5,483.8 1142.5,483.9 1150.5,484.2 1158.5,484.5 1166.5,484.7 1174.5,485.7 1182.5,486.4 1190.5,487.0 1198.5,486.8 1206.5,485.6 1214.5,484.2 1222.5,482.2 1230.5,479.5 1238.5,476.0 1246.5,472.3 1254.5,469.2 1262.5,466.3 1270.5,464.1 1278.5,462.7 1286.5,462.6 1294.5,463.1 1302.5,464.0 1310.5,465.9 1318.5,468.1 1326.5,470.5 1334.5,473.4 1342.5,476.2 1350.5,478.4"/>
<line x1="0" y1="632.5" x2="1584" y2="632.5" stroke="#c0c0c0" stroke-width="1" stroke-dasharray="3 3" shape-rendering="crispEdges"/>
<line x1="0" y1="676.5" x2="1584" y2="676.5" stroke="#c0c0c0" stroke-width="1" stroke-dasharray="3 3" shape-rendering="crispEdges"/>
<line x1="0" y1="728.5" x2="1584" y2="728.5" stroke="#c0c0c0" stroke-width="1" stroke-dasharray="3 3" shape-rendering="crispEdges"/>
<polyline fill="none" stroke="#1e90ff" stroke-width="1.1" points="-1.5,683.4 6.5,687.1 14.5,675.9 22.5,668.4 30.5,670.4 38.5,669.4 46.5,671.7 54.5,673.4 62.5,672.7 70.5,675.4 78.5,678.4 86.5,687.4 94.5,677.4 102.5,684.6 110.5,698.4 118.5,713.4 126.5,707.6 134.5,707.1 142.5,703.6 150.5,703.6 158.5,694.6 166.5,705.4 174.5,704.4 182.5,709.1 190.5,704.4 198.5,705.4 206.5,693.4 214.5,670.4 222.5,675.4 230.5,677.4 238.5,678.4 246.5,671.2 254.5,671.2 262.5,679.4 270.5,671.2 278.5,672.2 286.5,677.1 294.5,677.4 302.5,690.6 310.5,689.4 318.5,685.4 326.5,684.4 334.5,685.4 342.5,682.6 350.5,671.2 358.5,678.1 366.5,673.4 374.5,677.4 382.5,672.9 390.5,668.9 398.5,660.4 406.5,675.9 414.5,674.4 422.5,670.4 430.5,667.4 438.5,667.4 446.5,672.4 454.5,675.4 462.5,679.4 470.5,679.4 478.5,680.6 486.5,671.9 494.5,663.2 502.5,677.4 510.5,669.2 518.5,670.4 526.5,673.4 534.5,669.4 542.5,670.4 550.5,669.4 558.5,680.4 566.5,676.4 574.5,670.2 582.5,672.2 590.5,677.1 598.5,661.4 606.5,668.4 614.5,669.4 622.5,670.4 630.5,665.4 638.5,665.4 646.5,670.4 654.5,674.9 662.5,682.4 670.5,683.6 678.5,680.6 686.5,680.4 694.5,688.6 702.5,685.4 710.5,682.6 718.5,682.4 726.5,674.2 734.5,678.4 742.5,665.4 750.5,667.4 758.5,666.4 766.5,668.4 774.5,668.4 782.5,652.4 790.5,647.4 798.5,660.4 806.5,656.2 814.5,661.4 822.5,658.4 830.5,666.4 838.5,661.4 846.5,684.6 854.5,698.4 862.5,694.4 870.5,707.4 878.5,699.4 886.5,698.4 894.5,697.1 902.5,685.9 910.5,680.6 918.5,680.6 926.5,677.4 934.5,675.4 942.5,672.2 950.5,661.4 958.5,658.4 966.5,660.4 974.5,658.4 982.5,658.2 990.5,656.2 998.5,653.4 1006.5,654.7 1014.5,651.4 1022.5,661.4 1030.5,660.4 1038.5,657.4 1046.5,672.2 1054.5,675.7 1062.5,670.4 1070.5,671.4 1078.5,672.7 1086.5,671.4 1094.5,669.4 1102.5,655.4 1110.5,654.2 1118.5,655.4 1126.5,669.4 1134.5,676.1 1142.5,665.4 1150.5,675.7 1158.5,673.4 1166.5,671.4 1174.5,674.9 1182.5,657.4 1190.5,657.4 1198.5,653.4 1206.5,652.4 1214.5,654.2 1222.5,656.2 1230.5,648.4 1238.5,642.2 1246.5,659.4 1254.5,657.2 1262.5,652.4 1270.5,658.4 1278.5,665.4 1286.5,679.4 1294.5,673.4 1302.5,665.4 1310.5,670.9 1318.5,669.4 1326.5,671.4 1334.5,669.7 1342.5,666.4 1350.5,664.2"/>
<polygon points="1356,27 1366,27 1361,32" fill="#b8b8b8"/>
<g shape-rendering="crispEdges">
<rect x="1585" y="47" width="2" height="1" fill="#000" />
<rect x="1585" y="80" width="2" height="1" fill="#000" />
<rect x="1585" y="113" width="2" height="1" fill="#000" />
<rect x="1585" y="146" width="2" height="1" fill="#000" />
<rect x="1585" y="179" width="2" height="1" fill="#000" />
<rect x="1585" y="212" width="2" height="1" fill="#000" />
<rect x="1585" y="245" width="2" height="1" fill="#000" />
<rect x="1585" y="278" width="2" height="1" fill="#000" />
<rect x="1585" y="311" width="2" height="1" fill="#000" />
<rect x="1585" y="344" width="2" height="1" fill="#000" />
<rect x="1585" y="377" width="2" height="1" fill="#000" />
<rect x="1585" y="410" width="2" height="1" fill="#000" />
<rect x="1585" y="443" width="2" height="1" fill="#000" />
<rect x="1585" y="450" width="2" height="1" fill="#000" />
<rect x="1585" y="508" width="2" height="1" fill="#000" />
<rect x="1585" y="598" width="2" height="1" fill="#000" />
<rect x="1585" y="603" width="2" height="1" fill="#000" />
<rect x="1585" y="750" width="2" height="1" fill="#000" />
</g>
<text x="1590.5" y="50.8" font-size="9.75" fill="#000" font-weight="normal" text-anchor="start" stroke="#000" stroke-width="0.1"  textLength="32.8" lengthAdjust="spacingAndGlyphs" text-rendering="geometricPrecision">1.29290</text>
<text x="1590.5" y="83.8" font-size="9.75" fill="#000" font-weight="normal" text-anchor="start" stroke="#000" stroke-width="0.1"  textLength="32.8" lengthAdjust="spacingAndGlyphs" text-rendering="geometricPrecision">1.28890</text>
<text x="1590.5" y="116.8" font-size="9.75" fill="#000" font-weight="normal" text-anchor="start" stroke="#000" stroke-width="0.1"  textLength="32.8" lengthAdjust="spacingAndGlyphs" text-rendering="geometricPrecision">1.28490</text>
<text x="1590.5" y="149.8" font-size="9.75" fill="#000" font-weight="normal" text-anchor="start" stroke="#000" stroke-width="0.1"  textLength="32.8" lengthAdjust="spacingAndGlyphs" text-rendering="geometricPrecision">1.28090</text>
<text x="1590.5" y="182.8" font-size="9.75" fill="#000" font-weight="normal" text-anchor="start" stroke="#000" stroke-width="0.1"  textLength="32.8" lengthAdjust="spacingAndGlyphs" text-rendering="geometricPrecision">1.27700</text>
<text x="1590.5" y="215.8" font-size="9.75" fill="#000" font-weight="normal" text-anchor="start" stroke="#000" stroke-width="0.1"  textLength="32.8" lengthAdjust="spacingAndGlyphs" text-rendering="geometricPrecision">1.27300</text>
<text x="1590.5" y="248.8" font-size="9.75" fill="#000" font-weight="normal" text-anchor="start" stroke="#000" stroke-width="0.1"  textLength="32.8" lengthAdjust="spacingAndGlyphs" text-rendering="geometricPrecision">1.26900</text>
<text x="1590.5" y="281.8" font-size="9.75" fill="#000" font-weight="normal" text-anchor="start" stroke="#000" stroke-width="0.1"  textLength="32.8" lengthAdjust="spacingAndGlyphs" text-rendering="geometricPrecision">1.26500</text>
<text x="1590.5" y="314.8" font-size="9.75" fill="#000" font-weight="normal" text-anchor="start" stroke="#000" stroke-width="0.1"  textLength="32.8" lengthAdjust="spacingAndGlyphs" text-rendering="geometricPrecision">1.26100</text>
<text x="1590.5" y="347.8" font-size="9.75" fill="#000" font-weight="normal" text-anchor="start" stroke="#000" stroke-width="0.1"  textLength="32.8" lengthAdjust="spacingAndGlyphs" text-rendering="geometricPrecision">1.25700</text>
<text x="1590.5" y="380.8" font-size="9.75" fill="#000" font-weight="normal" text-anchor="start" stroke="#000" stroke-width="0.1"  textLength="32.8" lengthAdjust="spacingAndGlyphs" text-rendering="geometricPrecision">1.25300</text>
<text x="1590.5" y="413.8" font-size="9.75" fill="#000" font-weight="normal" text-anchor="start" stroke="#000" stroke-width="0.1"  textLength="32.8" lengthAdjust="spacingAndGlyphs" text-rendering="geometricPrecision">1.24900</text>
<text x="1590.5" y="446.8" font-size="9.75" fill="#000" font-weight="normal" text-anchor="start" stroke="#000" stroke-width="0.1"  textLength="32.8" lengthAdjust="spacingAndGlyphs" text-rendering="geometricPrecision">1.24500</text>
<text x="1588.3" y="459" font-size="9.75" fill="#000" font-weight="normal" text-anchor="start" stroke="#000" stroke-width="0.1"  textLength="37.8" lengthAdjust="spacingAndGlyphs" text-rendering="geometricPrecision">0.004409</text>
<text x="1588.7" y="511.8" font-size="9.75" fill="#000" font-weight="normal" text-anchor="start" stroke="#000" stroke-width="0.1"  textLength="17.7" lengthAdjust="spacingAndGlyphs" text-rendering="geometricPrecision">0.00</text>
<text x="1588.1" y="595.7" font-size="9.75" fill="#000" font-weight="normal" text-anchor="start" stroke="#000" stroke-width="0.1"  textLength="40.9" lengthAdjust="spacingAndGlyphs" text-rendering="geometricPrecision">-0.006778</text>
<text x="1588.7" y="612" font-size="9.75" fill="#000" font-weight="normal" text-anchor="start" stroke="#000" stroke-width="0.1"  textLength="15.1" lengthAdjust="spacingAndGlyphs" text-rendering="geometricPrecision">100</text>
<text x="1587.4" y="636" font-size="9.75" fill="#000" font-weight="normal" text-anchor="start" stroke="#000" stroke-width="0.1"  textLength="10.1" lengthAdjust="spacingAndGlyphs" text-rendering="geometricPrecision">80</text>
<text x="1587.4" y="680" font-size="9.75" fill="#000" font-weight="normal" text-anchor="start" stroke="#000" stroke-width="0.1"  textLength="10.1" lengthAdjust="spacingAndGlyphs" text-rendering="geometricPrecision">50</text>
<text x="1587.6" y="732" font-size="9.75" fill="#000" font-weight="normal" text-anchor="start" stroke="#000" stroke-width="0.1"  textLength="10.1" lengthAdjust="spacingAndGlyphs" text-rendering="geometricPrecision">15</text>
<text x="1588.7" y="748" font-size="9.75" fill="#000" font-weight="normal" text-anchor="start" stroke="#000" stroke-width="0.1"  textLength="5.0" lengthAdjust="spacingAndGlyphs" text-rendering="geometricPrecision">0</text>
<rect x="1586" y="36" width="40" height="11" fill="#ff4500" shape-rendering="crispEdges"/>
<text x="1590.5" y="44.8" font-size="9.75" fill="#fff" font-weight="normal" text-anchor="start" stroke="#fff" stroke-width="0.1"  textLength="32.8" lengthAdjust="spacingAndGlyphs" text-rendering="geometricPrecision">1.29359</text>
<rect x="1586" y="64" width="40" height="11" fill="#ff4500" shape-rendering="crispEdges"/>
<text x="1590.5" y="72.8" font-size="9.75" fill="#fff" font-weight="normal" text-anchor="start" stroke="#fff" stroke-width="0.1"  textLength="32.8" lengthAdjust="spacingAndGlyphs" text-rendering="geometricPrecision">1.29011</text>
<rect x="1586" y="84" width="40" height="11" fill="#000" shape-rendering="crispEdges"/>
<text x="1590.5" y="92.8" font-size="9.75" fill="#fff" font-weight="normal" text-anchor="start" stroke="#fff" stroke-width="0.1"  textLength="32.8" lengthAdjust="spacingAndGlyphs" text-rendering="geometricPrecision">1.28788</text>
<rect x="1586" y="105" width="40" height="11" fill="#32cd32" shape-rendering="crispEdges"/>
<text x="1590.5" y="113.8" font-size="9.75" fill="#fff" font-weight="normal" text-anchor="start" stroke="#fff" stroke-width="0.1"  textLength="32.8" lengthAdjust="spacingAndGlyphs" text-rendering="geometricPrecision">1.28516</text>
<rect x="1586" y="143" width="40" height="11" fill="#0000ff" shape-rendering="crispEdges"/>
<text x="1590.5" y="151.8" font-size="9.75" fill="#fff" font-weight="normal" text-anchor="start" stroke="#fff" stroke-width="0.1"  textLength="32.8" lengthAdjust="spacingAndGlyphs" text-rendering="geometricPrecision">1.28058</text>
<rect x="1586" y="181" width="40" height="11" fill="#0000ff" shape-rendering="crispEdges"/>
<text x="1590.5" y="189.8" font-size="9.75" fill="#fff" font-weight="normal" text-anchor="start" stroke="#fff" stroke-width="0.1"  textLength="32.8" lengthAdjust="spacingAndGlyphs" text-rendering="geometricPrecision">1.27599</text>
<g shape-rendering="crispEdges">
<rect x="-2" y="752" width="1" height="3" fill="#000" />
<rect x="62" y="752" width="1" height="3" fill="#000" />
<rect x="126" y="752" width="1" height="3" fill="#000" />
<rect x="190" y="752" width="1" height="3" fill="#000" />
<rect x="254" y="752" width="1" height="3" fill="#000" />
<rect x="318" y="752" width="1" height="3" fill="#000" />
<rect x="382" y="752" width="1" height="3" fill="#000" />
<rect x="446" y="752" width="1" height="3" fill="#000" />
<rect x="510" y="752" width="1" height="3" fill="#000" />
<rect x="574" y="752" width="1" height="3" fill="#000" />
<rect x="638" y="752" width="1" height="3" fill="#000" />
<rect x="702" y="752" width="1" height="3" fill="#000" />
<rect x="766" y="752" width="1" height="3" fill="#000" />
<rect x="830" y="752" width="1" height="3" fill="#000" />
<rect x="894" y="752" width="1" height="3" fill="#000" />
<rect x="958" y="752" width="1" height="3" fill="#000" />
<rect x="1022" y="752" width="1" height="3" fill="#000" />
<rect x="1086" y="752" width="1" height="3" fill="#000" />
<rect x="1150" y="752" width="1" height="3" fill="#000" />
<rect x="1214" y="752" width="1" height="3" fill="#000" />
<rect x="1278" y="752" width="1" height="3" fill="#000" />
<rect x="1342" y="752" width="1" height="3" fill="#000" />
</g>
<text x="-3" y="764" font-size="9.75" fill="#000" font-weight="normal" text-anchor="start" stroke="#000" stroke-width="0.1"  textLength="46.4" lengthAdjust="spacingAndGlyphs" text-rendering="geometricPrecision">6 Dec 2018</text>
<text x="61" y="764" font-size="9.75" fill="#000" font-weight="normal" text-anchor="start" stroke="#000" stroke-width="0.1"  textLength="48.9" lengthAdjust="spacingAndGlyphs" text-rendering="geometricPrecision">7 Dec 08:00</text>
<text x="125" y="764" font-size="9.75" fill="#000" font-weight="normal" text-anchor="start" stroke="#000" stroke-width="0.1"  textLength="54.0" lengthAdjust="spacingAndGlyphs" text-rendering="geometricPrecision">10 Dec 16:00</text>
<text x="189" y="764" font-size="9.75" fill="#000" font-weight="normal" text-anchor="start" stroke="#000" stroke-width="0.1"  textLength="54.0" lengthAdjust="spacingAndGlyphs" text-rendering="geometricPrecision">12 Dec 00:00</text>
<text x="253" y="764" font-size="9.75" fill="#000" font-weight="normal" text-anchor="start" stroke="#000" stroke-width="0.1"  textLength="54.0" lengthAdjust="spacingAndGlyphs" text-rendering="geometricPrecision">13 Dec 08:00</text>
<text x="317" y="764" font-size="9.75" fill="#000" font-weight="normal" text-anchor="start" stroke="#000" stroke-width="0.1"  textLength="54.0" lengthAdjust="spacingAndGlyphs" text-rendering="geometricPrecision">14 Dec 16:00</text>
<text x="381" y="764" font-size="9.75" fill="#000" font-weight="normal" text-anchor="start" stroke="#000" stroke-width="0.1"  textLength="54.0" lengthAdjust="spacingAndGlyphs" text-rendering="geometricPrecision">18 Dec 00:00</text>
<text x="445" y="764" font-size="9.75" fill="#000" font-weight="normal" text-anchor="start" stroke="#000" stroke-width="0.1"  textLength="54.0" lengthAdjust="spacingAndGlyphs" text-rendering="geometricPrecision">19 Dec 08:00</text>
<text x="509" y="764" font-size="9.75" fill="#000" font-weight="normal" text-anchor="start" stroke="#000" stroke-width="0.1"  textLength="54.0" lengthAdjust="spacingAndGlyphs" text-rendering="geometricPrecision">20 Dec 16:00</text>
<text x="573" y="764" font-size="9.75" fill="#000" font-weight="normal" text-anchor="start" stroke="#000" stroke-width="0.1"  textLength="54.0" lengthAdjust="spacingAndGlyphs" text-rendering="geometricPrecision">24 Dec 00:00</text>
<text x="637" y="764" font-size="9.75" fill="#000" font-weight="normal" text-anchor="start" stroke="#000" stroke-width="0.1"  textLength="54.0" lengthAdjust="spacingAndGlyphs" text-rendering="geometricPrecision">26 Dec 04:00</text>
<text x="701" y="764" font-size="9.75" fill="#000" font-weight="normal" text-anchor="start" stroke="#000" stroke-width="0.1"  textLength="54.0" lengthAdjust="spacingAndGlyphs" text-rendering="geometricPrecision">27 Dec 12:00</text>
<text x="765" y="764" font-size="9.75" fill="#000" font-weight="normal" text-anchor="start" stroke="#000" stroke-width="0.1"  textLength="54.0" lengthAdjust="spacingAndGlyphs" text-rendering="geometricPrecision">30 Dec 23:00</text>
<text x="829" y="764" font-size="9.75" fill="#000" font-weight="normal" text-anchor="start" stroke="#000" stroke-width="0.1"  textLength="47.4" lengthAdjust="spacingAndGlyphs" text-rendering="geometricPrecision">2 Jan 00:00</text>
<text x="893" y="764" font-size="9.75" fill="#000" font-weight="normal" text-anchor="start" stroke="#000" stroke-width="0.1"  textLength="47.4" lengthAdjust="spacingAndGlyphs" text-rendering="geometricPrecision">3 Jan 08:00</text>
<text x="957" y="764" font-size="9.75" fill="#000" font-weight="normal" text-anchor="start" stroke="#000" stroke-width="0.1"  textLength="47.4" lengthAdjust="spacingAndGlyphs" text-rendering="geometricPrecision">4 Jan 16:00</text>
<text x="1021" y="764" font-size="9.75" fill="#000" font-weight="normal" text-anchor="start" stroke="#000" stroke-width="0.1"  textLength="47.4" lengthAdjust="spacingAndGlyphs" text-rendering="geometricPrecision">8 Jan 00:00</text>
<text x="1085" y="764" font-size="9.75" fill="#000" font-weight="normal" text-anchor="start" stroke="#000" stroke-width="0.1"  textLength="47.4" lengthAdjust="spacingAndGlyphs" text-rendering="geometricPrecision">9 Jan 08:00</text>
<text x="1149" y="764" font-size="9.75" fill="#000" font-weight="normal" text-anchor="start" stroke="#000" stroke-width="0.1"  textLength="52.5" lengthAdjust="spacingAndGlyphs" text-rendering="geometricPrecision">10 Jan 16:00</text>
<text x="1213" y="764" font-size="9.75" fill="#000" font-weight="normal" text-anchor="start" stroke="#000" stroke-width="0.1"  textLength="52.5" lengthAdjust="spacingAndGlyphs" text-rendering="geometricPrecision">14 Jan 00:00</text>
<text x="1277" y="764" font-size="9.75" fill="#000" font-weight="normal" text-anchor="start" stroke="#000" stroke-width="0.1"  textLength="52.5" lengthAdjust="spacingAndGlyphs" text-rendering="geometricPrecision">15 Jan 08:00</text>
<text x="1341" y="764" font-size="9.75" fill="#000" font-weight="normal" text-anchor="start" stroke="#000" stroke-width="0.1"  textLength="52.5" lengthAdjust="spacingAndGlyphs" text-rendering="geometricPrecision">16 Jan 16:00</text>
<polygon points="1,37.5 8.5,37.5 4.75,33" fill="#000"/>
<text x="13" y="38" font-size="9.75" fill="#000" font-weight="normal" text-anchor="start" stroke="#000" stroke-width="0.1"  textLength="56.4" lengthAdjust="spacingAndGlyphs" text-rendering="geometricPrecision">GBPUSD-,H4</text>
<text x="76.4" y="38" font-size="9.75" fill="#000" font-weight="normal" text-anchor="start" stroke="#000" stroke-width="0.1"  textLength="140.5" lengthAdjust="spacingAndGlyphs" text-rendering="geometricPrecision">1.28696 1.28963 1.28668 1.28788</text>
<text x="2.5" y="461" font-size="9.75" fill="#000" font-weight="normal" text-anchor="start" stroke="#000" stroke-width="0.1"  textLength="147.5" lengthAdjust="spacingAndGlyphs" text-rendering="geometricPrecision">MACD(12,26,9) 0.002024 0.002320</text>
<text x="2.5" y="614" font-size="9.75" fill="#000" font-weight="normal" text-anchor="start" stroke="#000" stroke-width="0.1"  textLength="67.5" lengthAdjust="spacingAndGlyphs" text-rendering="geometricPrecision">RSI(14) 58.4817</text>
<rect x="0" y="44" width="222" height="68" fill="#fff" />
<defs>
<linearGradient id="bg" x1="0" y1="46" x2="0" y2="110" gradientUnits="userSpaceOnUse">
<stop offset="0" stop-color="#5454f6"/><stop offset="0.38" stop-color="#3434dc"/><stop offset="1" stop-color="#0000a8"/></linearGradient>
</defs>
<polygon points="1.5,46.5 52.5,46.5 52.5,70.5 109.5,70.5 109.5,109.5 1.5,109.5" fill="url(#bg)" stroke="#1414b4" stroke-width="1"/>
<polygon points="168.5,46.5 219.5,46.5 219.5,109.5 112.5,109.5 112.5,70.5 168.5,70.5" fill="url(#bg)" stroke="#1414b4" stroke-width="1"/>
<rect x="5" y="69" width="44" height="1" fill="#8c8cf4" />
<rect x="5" y="70" width="44" height="1" fill="#1818b0" />
<rect x="172" y="69" width="44" height="1" fill="#8c8cf4" />
<rect x="172" y="70" width="44" height="1" fill="#1818b0" />
<rect x="55.5" y="46.5" width="111" height="21" fill="#fff" stroke="#a9a9a9"/>
<rect x="56" y="47" width="20" height="20" fill="#e6e6e6" />
<rect x="145" y="47" width="21" height="20" fill="#e6e6e6" />
<rect x="76" y="47" width="1" height="20" fill="#a9a9a9" />
<rect x="144" y="47" width="1" height="20" fill="#a9a9a9" />
<polygon points="63,55.5 69,55.5 66,58.5" fill="#000"/>
<polygon points="152,58 158,58 155,55" fill="#000"/>
<text x="141.5" y="61" font-size="12.3" fill="#111" font-weight="normal" text-anchor="end" >0.10</text>
<text x="26.3" y="62" font-size="12" fill="#f0f0ff" font-weight="normal" text-anchor="middle" textLength="25.5" lengthAdjust="spacingAndGlyphs">SELL</text>
<text x="193.2" y="62" font-size="12" fill="#f0f0ff" font-weight="normal" text-anchor="middle" textLength="22.5" lengthAdjust="spacingAndGlyphs">BUY</text>
<text x="21.8" y="101" font-size="11.6" fill="#fff" font-weight="bold" text-anchor="start" textLength="23.5" lengthAdjust="spacingAndGlyphs">1.28</text>
<text x="48.5" y="101.3" font-size="33.2" fill="#fff" font-weight="normal" text-anchor="start" textLength="35.5" lengthAdjust="spacingAndGlyphs">78</text>
<text x="88" y="84.8" font-size="11.6" fill="#fff" font-weight="bold" text-anchor="start" >8</text>
<text x="131.8" y="101" font-size="11.6" fill="#fff" font-weight="bold" text-anchor="start" textLength="23.5" lengthAdjust="spacingAndGlyphs">1.28</text>
<text x="159.3" y="101.3" font-size="33.2" fill="#fff" font-weight="normal" text-anchor="start" textLength="35.5" lengthAdjust="spacingAndGlyphs">89</text>
<text x="199.3" y="84.8" font-size="11.6" fill="#fff" font-weight="bold" text-anchor="start" >4</text>
<g id="toolbar">
<rect x="0" y="0" width="1626" height="22" fill="#f0f0f0"/>
<rect x="0" y="22" width="1626" height="1" fill="#b9b9b9" shape-rendering="crispEdges"/>
<rect x="0" y="23" width="1626" height="1" fill="#7d7d7d" shape-rendering="crispEdges"/>
<rect x="0" y="24" width="1626" height="2" fill="#fff" shape-rendering="crispEdges"/>
<text x="-3.2" y="13.3" font-size="12" fill="#000" text-anchor="start" style="font-family:'Liberation Sans','Noto Sans CJK SC',sans-serif;">单</text>
<text x="126.2" y="13.3" font-size="11.6" fill="#000" text-anchor="start" textLength="47" lengthAdjust="spacing" style="font-family:'Liberation Sans','Noto Sans CJK SC',sans-serif;">自动交易</text>
<g><polygon points="22.5,11.5 29,3.5 37.5,9.5 32,18 " fill="#e9b32b" stroke="#a86e12" stroke-width="1" stroke-linejoin="round"/><polygon points="24.5,11.3 29.4,5.4 34.5,9 " fill="#f8d86a"/><path d="M23,12.5 L32,18.5 L37.5,10.5" stroke="#8a5a10" stroke-width="1.2" fill="none"/></g>
<g><polygon points="52,3.5 59,2.5 62.5,4.5 62.5,13 52,13" fill="#3f97e6" stroke="#2a6fc0" stroke-width="0.8"/><rect x="55.5" y="5" width="6" height="2" fill="#cfe8ff"/><rect x="55.5" y="8.5" width="6" height="1.6" fill="#cfe8ff"/><path d="M52.5,17.5 a3.2,3.2 0 0 1 0.5,-6.3 a3.8,3.8 0 0 1 7,-0.8 a3.3,3.3 0 0 1 5.2,2.6 a2.4,2.4 0 0 1 -0.7,4.5 z" fill="#eef2f8" stroke="#8e9fb8" stroke-width="0.9"/></g>
<g fill="none"><circle cx="86" cy="10.5" r="7" stroke="#9fb4d6" stroke-width="1.3"/><circle cx="86" cy="10.5" r="4.3" stroke="#5a86cf" stroke-width="1.3"/><path d="M86,10.5 L86,18 A7.5,7.5 0 0 0 93.3,12 A 4,4 0 0 1 86,10.5z" fill="#4fb84a" stroke="none"/><circle cx="86" cy="10" r="1.7" fill="#2a62c8"/></g>
<g><path d="M106,8.5 Q113.5,20 121,8.5 Z" fill="#f4c430" stroke="#c4901a" stroke-width="0.8"/><ellipse cx="113.5" cy="6.5" rx="8" ry="3.2" fill="#5aa0e0" stroke="#3a78c0" stroke-width="0.8"/><ellipse cx="113.5" cy="4.8" rx="4.5" ry="2.6" fill="#79b6ec"/><circle cx="117.5" cy="13.5" r="4" fill="#d8281e" stroke="#fff" stroke-width="0.8"/><rect x="116" y="12" width="3" height="3" fill="#fff"/></g>
<rect x="181" y="0" width="1" height="20" fill="#a0a0a0" shape-rendering="crispEdges"/>
<rect x="185" y="1" width="3" height="1" fill="#b4b4b4" shape-rendering="crispEdges"/>
<rect x="185" y="3" width="3" height="1" fill="#b4b4b4" shape-rendering="crispEdges"/>
<rect x="185" y="5" width="3" height="1" fill="#b4b4b4" shape-rendering="crispEdges"/>
<rect x="185" y="7" width="3" height="1" fill="#b4b4b4" shape-rendering="crispEdges"/>
<rect x="185" y="9" width="3" height="1" fill="#b4b4b4" shape-rendering="crispEdges"/>
<rect x="185" y="11" width="3" height="1" fill="#b4b4b4" shape-rendering="crispEdges"/>
<rect x="185" y="13" width="3" height="1" fill="#b4b4b4" shape-rendering="crispEdges"/>
<rect x="185" y="15" width="3" height="1" fill="#b4b4b4" shape-rendering="crispEdges"/>
<rect x="185" y="17" width="3" height="1" fill="#b4b4b4" shape-rendering="crispEdges"/>
<rect x="185" y="19" width="3" height="1" fill="#b4b4b4" shape-rendering="crispEdges"/>
<g stroke="#404040" stroke-width="1" fill="none" shape-rendering="crispEdges"><line x1="200.5" y1="5" x2="200.5" y2="18"/><line x1="197" y1="15.5" x2="210" y2="15.5"/></g>
<path d="M199,6.5 L200.5,4.2 L202,6.5 M208.5,14 L210.8,15.5 L208.5,17" stroke="#404040" stroke-width="1" fill="none"/>
<path d="M204.5,5.5 h2.5 M204.5,5.5 v7 M202,12.5 h2.5" stroke="#2a9a2a" stroke-width="1.4" fill="none" shape-rendering="crispEdges"/>
<rect x="219" y="0" width="1" height="20" fill="#a0a0a0" shape-rendering="crispEdges"/>
<rect x="220" y="0" width="25" height="20" fill="#f9f9f9"/>
<g stroke="#404040" stroke-width="1" fill="none" shape-rendering="crispEdges"><line x1="228.5" y1="5" x2="228.5" y2="18"/><line x1="225" y1="15.5" x2="238" y2="15.5"/></g>
<path d="M227,6.5 L228.5,4.2 L230,6.5 M236.5,14 L238.8,15.5 L236.5,17" stroke="#404040" stroke-width="1" fill="none"/>
<g shape-rendering="crispEdges"><rect x="233" y="2" width="1" height="12" fill="#1d7a1d"/><rect x="231" y="4" width="5" height="8" fill="#2fd02f" stroke="#1d7a1d" stroke-width="1"/></g>
<g stroke="#404040" stroke-width="1" fill="none" shape-rendering="crispEdges"><line x1="256.5" y1="5" x2="256.5" y2="18"/><line x1="253" y1="15.5" x2="266" y2="15.5"/></g>
<path d="M255,6.5 L256.5,4.2 L258,6.5 M264.5,14 L266.8,15.5 L264.5,17" stroke="#404040" stroke-width="1" fill="none"/>
<path d="M254,13 Q258,5.5 261,7.5 T266,11.5" stroke="#2a8a2a" stroke-width="1.2" fill="none"/>
<rect x="276" y="0" width="1" height="20" fill="#a0a0a0" shape-rendering="crispEdges"/>
<g><line x1="294" y1="11" x2="300.3" y2="16.8" stroke="#c9a227" stroke-width="2.6" stroke-linecap="round"/><line x1="294.5" y1="11" x2="300" y2="16" stroke="#f0d878" stroke-width="0.9"/><circle cx="291" cy="7.5" r="5.3" fill="#d6ecfb" stroke="#2f6fd0" stroke-width="1.3"/><line x1="288.3" y1="7.5" x2="293.7" y2="7.5" stroke="#2f6fd0" stroke-width="1.6"/><line x1="291" y1="4.8" x2="291" y2="10.2" stroke="#2f6fd0" stroke-width="1.6"/></g>
<g><line x1="322" y1="11" x2="328.3" y2="16.8" stroke="#c9a227" stroke-width="2.6" stroke-linecap="round"/><line x1="322.5" y1="11" x2="328" y2="16" stroke="#f0d878" stroke-width="0.9"/><circle cx="319" cy="7.5" r="5.3" fill="#d6ecfb" stroke="#2f6fd0" stroke-width="1.3"/><line x1="316.3" y1="7.5" x2="321.7" y2="7.5" stroke="#2f6fd0" stroke-width="1.6"/></g>
<g shape-rendering="crispEdges"><rect x="341" y="2" width="8" height="8" fill="#4a9a1a"/><rect x="349" y="2" width="8" height="8" fill="#1f55c8"/><rect x="341" y="10" width="8" height="8" fill="#1f55c8"/><rect x="349" y="10" width="8" height="8" fill="#4a9a1a"/><rect x="342.5" y="5" width="5" height="3.5" fill="#e6f2d8"/><rect x="350.5" y="5" width="5" height="3.5" fill="#dbe6fb"/><rect x="342.5" y="13" width="5" height="3.5" fill="#dbe6fb"/><rect x="350.5" y="13" width="5" height="3.5" fill="#e6f2d8"/></g>
<rect x="366" y="0" width="1" height="20" fill="#a0a0a0" shape-rendering="crispEdges"/>
<rect x="371" y="0" width="1" height="20" fill="#a0a0a0" shape-rendering="crispEdges"/>
<rect x="372" y="0" width="25" height="20" fill="#f9f9f9"/>
<g stroke="#404040" stroke-width="1" fill="none" shape-rendering="crispEdges"><line x1="380.5" y1="5" x2="380.5" y2="18"/><line x1="377" y1="15.5" x2="390" y2="15.5"/></g>
<path d="M379,6.5 L380.5,4.2 L382,6.5 M388.5,14 L390.8,15.5 L388.5,17" stroke="#404040" stroke-width="1" fill="none"/>
<polygon points="384.5,6.5 384.5,12.5 388.5,9.5" fill="#e8ffe8" stroke="#2aa02a" stroke-width="1"/>
<rect x="399" y="0" width="1" height="20" fill="#a0a0a0" shape-rendering="crispEdges"/>
<rect x="400" y="0" width="25" height="20" fill="#f9f9f9"/>
<g stroke="#404040" stroke-width="1" fill="none" shape-rendering="crispEdges"><line x1="408.5" y1="5" x2="408.5" y2="18"/><line x1="405" y1="15.5" x2="418" y2="15.5"/></g>
<path d="M407,6.5 L408.5,4.2 L410,6.5 M416.5,14 L418.8,15.5 L416.5,17" stroke="#404040" stroke-width="1" fill="none"/>
<rect x="412.5" y="4" width="1" height="10" fill="#2a6ab0" shape-rendering="crispEdges"/><path d="M418.5,9.5 h-4 M416.5,7.5 l-2,2 l2,2" stroke="#c8401a" stroke-width="1.1" fill="none"/>
<rect x="428" y="0" width="1" height="20" fill="#a0a0a0" shape-rendering="crispEdges"/>
<g><path d="M438.5,3.5 h7 l3,3 v8.5 h-10 z" fill="#fafafa" stroke="#8a8a8a" stroke-width="0.9"/><path d="M442,6 c-1.5,0 -1,3 -1,3 c0,1 -1,1 -1,1 c1,0 1,1 1,1 s-0.5,2.5 1,2.5" stroke="#555" stroke-width="0.9" fill="none"/><path d="M448.5,8.5 v10 M443.5,13.5 h10" stroke="#1a9a1a" stroke-width="4"/><path d="M448.5,9.3 v8.4 M444.3,13.5 h8.4" stroke="#3fe03f" stroke-width="2.2"/></g>
<polygon points="460,9 465.5,9 462.75,12" fill="#000"/>
<g><circle cx="484" cy="10" r="7.2" fill="#e8eef8" stroke="#1f5fd0" stroke-width="2"/><circle cx="484" cy="10" r="5" fill="#f4f6fa" stroke="#b8c4dc" stroke-width="0.6"/><path d="M484,6.3 v4 h3" stroke="#444" stroke-width="1" fill="none"/></g>
<polygon points="499,9 504.5,9 501.75,12" fill="#000"/>
<g><rect x="515.5" y="3.5" width="15" height="13" fill="#fff" stroke="#3a6cc8" stroke-width="1"/><rect x="516" y="4" width="14" height="2" fill="#5a8ce0"/><line x1="516" y1="10.5" x2="530" y2="10.5" stroke="#3a6cc8" stroke-width="0.8"/><path d="M517.5,9 l3,-1 l3,0.5 l2.5,-1.5 l3,0.5" stroke="#a0281a" stroke-width="1.1" fill="none"/><path d="M517.5,14.5 l3,-1 l2.5,0.8 l2.5,-2 l3,2" stroke="#2a9a2a" stroke-width="1.1" fill="none"/></g>
<polygon points="538,9 543.5,9 540.75,12" fill="#000"/>
<rect x="549" y="0" width="1" height="22" fill="#a0a0a0" shape-rendering="crispEdges"/>
<rect x="553" y="1" width="3" height="1" fill="#b4b4b4" shape-rendering="crispEdges"/>
<rect x="553" y="3" width="3" height="1" fill="#b4b4b4" shape-rendering="crispEdges"/>
<rect x="553" y="5" width="3" height="1" fill="#b4b4b4" shape-rendering="crispEdges"/>
<rect x="553" y="7" width="3" height="1" fill="#b4b4b4" shape-rendering="crispEdges"/>
<rect x="553" y="9" width="3" height="1" fill="#b4b4b4" shape-rendering="crispEdges"/>
<rect x="553" y="11" width="3" height="1" fill="#b4b4b4" shape-rendering="crispEdges"/>
<rect x="553" y="13" width="3" height="1" fill="#b4b4b4" shape-rendering="crispEdges"/>
<rect x="553" y="15" width="3" height="1" fill="#b4b4b4" shape-rendering="crispEdges"/>
<rect x="553" y="17" width="3" height="1" fill="#b4b4b4" shape-rendering="crispEdges"/>
<rect x="553" y="19" width="3" height="1" fill="#b4b4b4" shape-rendering="crispEdges"/>
<rect x="559" y="0" width="1" height="20" fill="#a0a0a0" shape-rendering="crispEdges"/>
<rect x="560" y="0" width="25" height="20" fill="#f9f9f9"/>
<polygon points="567.5,3 567.5,14.5 570.3,12 572.5,16.8 574.3,16 572.2,11.3 576,11" fill="#404040"/>
<g stroke="#404040" stroke-width="1" shape-rendering="crispEdges"><line x1="599.5" y1="3" x2="599.5" y2="8"/><line x1="599.5" y1="12" x2="599.5" y2="18"/><line x1="592" y1="10.5" x2="598" y2="10.5"/><line x1="601" y1="10.5" x2="607" y2="10.5"/></g>
<rect x="616" y="0" width="1" height="20" fill="#a0a0a0" shape-rendering="crispEdges"/>
<rect x="633" y="4" width="1" height="13" fill="#404040" shape-rendering="crispEdges"/>
<rect x="656" y="10" width="12" height="1" fill="#404040" shape-rendering="crispEdges"/>
<line x1="684" y1="16.5" x2="696" y2="5" stroke="#404040" stroke-width="1.1"/>
<g stroke="#404040" stroke-width="1" fill="none"><line x1="710" y1="12" x2="723" y2="4"/><line x1="711" y1="16" x2="724" y2="8"/><line x1="714" y1="8" x2="712" y2="16"/><line x1="717.5" y1="6" x2="715.5" y2="14"/><line x1="721" y1="4" x2="719" y2="12"/><line x1="722.5" y1="2" x2="721.5" y2="7"/></g>
<text x="721.3" y="18.6" font-size="6.5" font-weight="bold" fill="#404040">E</text>
<line x1="739" y1="3.5" x2="752" y2="3.5" stroke="#404040" stroke-width="1" stroke-dasharray="1 1" shape-rendering="crispEdges"/>
<line x1="739" y1="6.5" x2="752" y2="6.5" stroke="#404040" stroke-width="1" stroke-dasharray="1 1" shape-rendering="crispEdges"/>
<line x1="739" y1="9.5" x2="752" y2="9.5" stroke="#404040" stroke-width="1" stroke-dasharray="1 1" shape-rendering="crispEdges"/>
<line x1="739" y1="14.5" x2="747" y2="14.5" stroke="#404040" stroke-width="1" stroke-dasharray="1 1" shape-rendering="crispEdges"/>
<text x="748.8" y="18.6" font-size="6.5" font-weight="bold" fill="#404040">F</text>
<text x="773.7" y="15" font-size="12.5" fill="#404040" text-anchor="middle">A</text>
<rect x="796.5" y="4.5" width="11" height="12" fill="none" stroke="#404040" stroke-width="1" stroke-dasharray="1 1" shape-rendering="crispEdges"/>
<text x="802" y="14.8" font-size="11.5" font-weight="bold" fill="#404040" text-anchor="middle">T</text>
<g fill="#404040"><polygon points="824,7 827.5,3.5 831,7 827.5,9"/><polygon points="830.5,13 834,11 837.5,13 834,16.5"/><path d="M825.5,10.5 l2,2.5 l4,-4.5" stroke="#404040" stroke-width="1.3" fill="none"/></g>
<polygon points="844,9 849.5,9 846.75,12" fill="#000"/>
<rect x="855" y="0" width="1" height="22" fill="#a0a0a0" shape-rendering="crispEdges"/>
<rect x="859" y="1" width="3" height="1" fill="#b4b4b4" shape-rendering="crispEdges"/>
<rect x="859" y="3" width="3" height="1" fill="#b4b4b4" shape-rendering="crispEdges"/>
<rect x="859" y="5" width="3" height="1" fill="#b4b4b4" shape-rendering="crispEdges"/>
<rect x="859" y="7" width="3" height="1" fill="#b4b4b4" shape-rendering="crispEdges"/>
<rect x="859" y="9" width="3" height="1" fill="#b4b4b4" shape-rendering="crispEdges"/>
<rect x="859" y="11" width="3" height="1" fill="#b4b4b4" shape-rendering="crispEdges"/>
<rect x="859" y="13" width="3" height="1" fill="#b4b4b4" shape-rendering="crispEdges"/>
<rect x="859" y="15" width="3" height="1" fill="#b4b4b4" shape-rendering="crispEdges"/>
<rect x="859" y="17" width="3" height="1" fill="#b4b4b4" shape-rendering="crispEdges"/>
<rect x="859" y="19" width="3" height="1" fill="#b4b4b4" shape-rendering="crispEdges"/>
<text x="871.0" y="13.9" font-size="9.6" fill="#3c3c3c" textLength="12.3" lengthAdjust="spacingAndGlyphs" text-rendering="geometricPrecision">M1</text>
<text x="898.8" y="13.9" font-size="9.6" fill="#3c3c3c" textLength="12.5" lengthAdjust="spacingAndGlyphs" text-rendering="geometricPrecision">M5</text>
<text x="924.8" y="13.9" font-size="9.6" fill="#3c3c3c" textLength="17.5" lengthAdjust="spacingAndGlyphs" text-rendering="geometricPrecision">M15</text>
<text x="952.8" y="13.9" font-size="9.6" fill="#3c3c3c" textLength="17.5" lengthAdjust="spacingAndGlyphs" text-rendering="geometricPrecision">M30</text>
<text x="983.8" y="13.9" font-size="9.6" fill="#3c3c3c" textLength="11.7" lengthAdjust="spacingAndGlyphs" text-rendering="geometricPrecision">H1</text>
<rect x="1005" y="0" width="1" height="20" fill="#a0a0a0" shape-rendering="crispEdges"/>
<rect x="1006" y="0" width="25" height="20" fill="#f9f9f9"/>
<text x="1011.0" y="13.9" font-size="9.6" fill="#3c3c3c" textLength="12.1" lengthAdjust="spacingAndGlyphs" text-rendering="geometricPrecision">H4</text>
<text x="1039.8" y="13.9" font-size="9.6" fill="#3c3c3c" textLength="11.5" lengthAdjust="spacingAndGlyphs" text-rendering="geometricPrecision">D1</text>
<text x="1067.5" y="13.9" font-size="9.6" fill="#3c3c3c" textLength="14" lengthAdjust="spacingAndGlyphs" text-rendering="geometricPrecision">W1</text>
<text x="1094.0" y="13.9" font-size="9.6" fill="#3c3c3c" textLength="14.5" lengthAdjust="spacingAndGlyphs" text-rendering="geometricPrecision">MN</text>
<rect x="1116" y="0" width="1" height="22" fill="#a0a0a0" shape-rendering="crispEdges"/>
<g><line x1="1584" y1="10.5" x2="1579.3" y2="15" stroke="#2a5cc8" stroke-width="2" stroke-linecap="round"/><circle cx="1586.6" cy="7.8" r="4" fill="#f4f6fb" stroke="#2a5cc8" stroke-width="1.3"/></g>
<g><path d="M1613,8.5 a6.5,5 0 1 1 9,4.3 l1,2.3 l-3.3,-1.5 a6.5,5 0 0 1 -6.7,-5.1z" fill="#f4f5f9" stroke="#8e9298" stroke-width="0.8"/><path d="M1605.2,11.5 a4.8,3.8 0 1 1 5,3.7 l-2.6,1.6 l0.5,-2 a4.8,3.8 0 0 1 -2.9,-3.3z" fill="#f8f8fb" stroke="#8e9298" stroke-width="0.8"/></g>
</g>
</svg>
</body></html>
